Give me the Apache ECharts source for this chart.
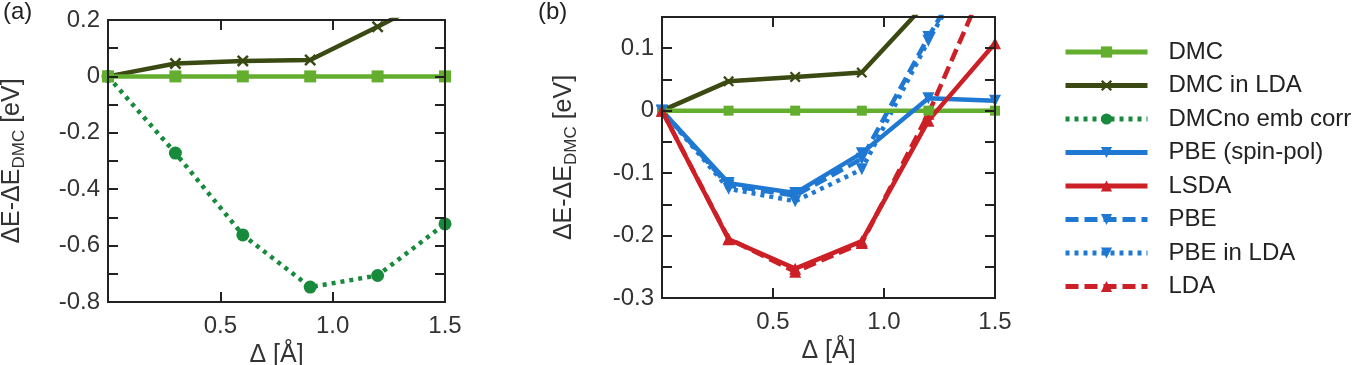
<!DOCTYPE html>
<html>
<head>
<meta charset="utf-8">
<script src="https://cdn.jsdelivr.net/npm/echarts@6/dist/echarts.min.js"></script>
<style>
  html, body { margin: 0; padding: 0; background: #fff; }
  #wrap { position: relative; width: 1372px; height: 365px; }
  #chart, #frame { position: absolute; left: 0; top: 0; width: 1372px; height: 365px; }
  #frame { pointer-events: none; }
</style>
</head>
<body>
<div id="wrap">
  <div id="chart"></div>
  <div id="frame"></div>
</div>
<script>
// displacement values, shared by both panels
const xs = [0, 0.3, 0.6, 0.9, 1.2, 1.5]

// panel (a)
const aDmc = [0, 0, 0, 0, 0, 0]
const aDmcLda = [0, 0.046, 0.055, 0.058, 0.176, 0.30]
const aNoEmb = [0, -0.272, -0.562, -0.747, -0.706, -0.523]

// panel (b)
const bDmc = [0, 0, 0, 0, 0, 0]
const bDmcLda = [0, 0.047, 0.054, 0.061, 0.176, 0.29]
const bPbeSpin = [0, -0.116, -0.132, -0.068, 0.02, 0.016]
const bLsda = [0, -0.206, -0.253, -0.209, -0.016, 0.108]
const bPbe = [0, -0.12, -0.136, -0.077, 0.118, 0.30]
const bPbeLda = [0, -0.125, -0.145, -0.094, 0.112, 0.30]
const bLda = [0, -0.205, -0.258, -0.212, -0.005, 0.24]

const legendNames = ['DMC', 'DMC in LDA', 'DMCno emb corr', 'PBE (spin-pol)', 'LSDA', 'PBE', 'PBE in LDA', 'LDA']

const C = {
  dmc: '#63ad2f',
  dmcLda: '#3a4a12',
  noEmb: '#178a3c',
  blue: '#1f78d1',
  red: '#cc1f26'
}
const FONT = 'Liberation Sans'
const CROSS = 'path://M0,1.5 L1.5,0 L5,3.5 L8.5,0 L10,1.5 L6.5,5 L10,8.5 L8.5,10 L5,6.5 L1.5,10 L0,8.5 L3.5,5 Z'
const DASH = [13, 6]
const DOT = [4, 5]

// fixed plot boxes (no auto shrink to fit names)
const grids = () => [
  { left: 108, top: 20, width: 337, height: 282, outerBoundsMode: 'none', containLabel: false },
  { left: 662, top: 17, width: 333, height: 281, outerBoundsMode: 'none', containLabel: false }
]
// y extents and tick steps: [min, max, label step, tick step]
const yRangeA = [-0.8, 0.2, 0.2, 0.1]
const yRangeB = [-0.3, 0.15, 0.1, 0.05]

function pairs(ys) {
  return xs.map((x, i) => [x, ys[i]])
}

function line(name, ys, idx, color, type, symbol, size, rotate) {
  return {
    name, type: 'line', data: pairs(ys),
    xAxisIndex: idx, yAxisIndex: idx,
    symbol, symbolSize: size, symbolRotate: rotate || 0,
    lineStyle: { color, width: 4.5, type },
    itemStyle: { color },
    animation: false, clip: true
  }
}

const axisLine = () => ({ show: true, onZero: false, lineStyle: { color: '#222', width: 2 } })
const tick = () => ({ show: true, inside: true, length: 10, lineStyle: { color: '#222', width: 2 } })
const fmtY = v => Math.abs(v) < 1e-9 ? '0' : String(Math.round(v * 10) / 10)

// ---- main chart: data, labels, legend ----
function xMain(grid) {
  return {
    type: 'value', gridIndex: grid, min: 0, max: 1.5, interval: 0.5,
    axisLine: axisLine(), axisTick: { show: false }, splitLine: { show: false },
    axisLabel: {
      fontSize: 24, color: '#333', fontFamily: FONT, margin: 12,
      showMinLabel: false, formatter: v => v.toFixed(1)
    },
    name: 'Δ [Å]', nameLocation: 'middle', nameGap: 40,
    nameTextStyle: { fontSize: 25, color: '#333', fontFamily: FONT }
  }
}

function yMain(grid, range, nameGap, hideMax) {
  return {
    type: 'value', gridIndex: grid, min: range[0], max: range[1], interval: range[2],
    axisLine: axisLine(), axisTick: { show: false }, splitLine: { show: false },
    axisLabel: {
      fontSize: 24, color: '#333', fontFamily: FONT, margin: 8,
      showMaxLabel: !hideMax, formatter: fmtY
    },
    name: '{m|ΔE-ΔE}{s|DMC}{m| [eV]}', nameLocation: 'middle', nameGap, nameRotate: 90,
    nameTextStyle: {
      rich: {
        m: { fontSize: 25, color: '#333', fontFamily: FONT },
        s: { fontSize: 17, color: '#333', fontFamily: FONT, padding: [14, 0, 0, 0] }
      }
    }
  }
}

const option = {
  backgroundColor: '#fff',
  textStyle: { fontFamily: FONT },
  animation: false,
  grid: grids(),
  xAxis: [xMain(0), xMain(1)],
  yAxis: [yMain(0, yRangeA, 80, false), yMain(1, yRangeB, 82, true)],
  legend: {
    orient: 'vertical', left: 1058, top: 35,
    data: legendNames,
    itemWidth: 82, itemHeight: 14, itemGap: 9.5,
    selectedMode: false,
    lineStyle: { width: 5 },
    textStyle: { fontSize: 24, color: '#222', fontFamily: FONT, lineHeight: 24, padding: [0, 0, 0, 16] }
  },
  graphic: [
    { type: 'text', left: 3, top: 0, style: { text: '(a)', fontSize: 24, fill: '#222', fontFamily: FONT } },
    { type: 'text', left: 538, top: 0, style: { text: '(b)', fontSize: 24, fill: '#222', fontFamily: FONT } }
  ],
  series: [
    // (a)
    line('DMC in LDA', aDmcLda, 0, C.dmcLda, 'solid', CROSS, 12),
    line('DMCno emb corr', aNoEmb, 0, C.noEmb, DOT, 'circle', 13),
    line('DMC', aDmc, 0, C.dmc, 'solid', 'rect', 12),
    // (b)
    line('DMC in LDA', bDmcLda, 1, C.dmcLda, 'solid', CROSS, 11),
    line('PBE', bPbe, 1, C.blue, DASH, 'triangle', 12, 180),
    line('PBE in LDA', bPbeLda, 1, C.blue, DOT, 'triangle', 12, 180),
    line('LDA', bLda, 1, C.red, DASH, 'triangle', 12),
    line('DMC', bDmc, 1, C.dmc, 'solid', 'rect', 10),
    line('PBE (spin-pol)', bPbeSpin, 1, C.blue, 'solid', 'triangle', 12, 180),
    line('LSDA', bLsda, 1, C.red, 'solid', 'triangle', 12)
  ]
}

// ---- frame layer: box with inward ticks on all four sides ----
function xFrame(grid, pos) {
  return {
    type: 'value', gridIndex: grid, position: pos, min: 0, max: 1.5, interval: 0.5,
    axisLine: axisLine(), axisTick: tick(), axisLabel: { show: false }, splitLine: { show: false }
  }
}
function yFrame(grid, pos, range) {
  return {
    type: 'value', gridIndex: grid, position: pos, min: range[0], max: range[1], interval: range[3],
    axisLine: axisLine(), axisTick: tick(), axisLabel: { show: false }, splitLine: { show: false }
  }
}

const frameOption = {
  backgroundColor: 'transparent',
  animation: false,
  grid: grids(),
  xAxis: [xFrame(0, 'bottom'), xFrame(0, 'top'), xFrame(1, 'bottom'), xFrame(1, 'top')],
  yAxis: [yFrame(0, 'left', yRangeA), yFrame(0, 'right', yRangeA), yFrame(1, 'left', yRangeB), yFrame(1, 'right', yRangeB)],
  series: []
}

const chart = echarts.init(document.getElementById('chart'), null, { renderer: 'canvas' })
chart.setOption(option)
const frame = echarts.init(document.getElementById('frame'), null, { renderer: 'canvas' })
frame.setOption(frameOption)
</script>
</body>
</html>
